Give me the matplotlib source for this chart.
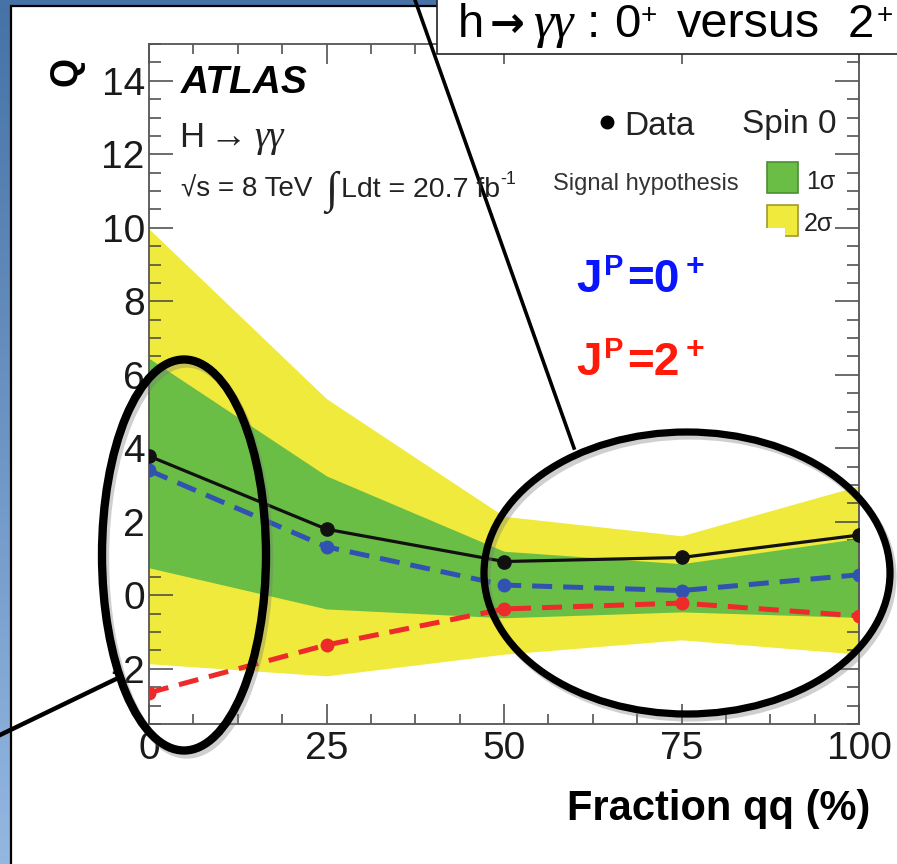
import numpy as np
import matplotlib
matplotlib.use("Agg")
import matplotlib.pyplot as plt
from matplotlib.patches import Ellipse, Rectangle
from matplotlib.lines import Line2D
from matplotlib.colors import LinearSegmentedColormap
from matplotlib.ticker import MultipleLocator

plt.rcParams['font.family'] = ['Liberation Sans', 'DejaVu Sans']
plt.rcParams['axes.unicode_minus'] = False

# ---- data: separation variable Q vs. fraction of qq-initiated production ----
qq_fraction = [0, 25, 50, 75, 100]
q_data = [3.79, 1.80, 0.92, 1.03, 1.64]
q_spin0 = [3.40, 1.32, 0.28, 0.13, 0.56]
q_spin2 = [-2.65, -1.35, -0.37, -0.21, -0.56]
band1_lo = [0.75, -0.37, -0.61, -0.45, -0.60]
band1_hi = [6.45, 3.25, 1.20, 0.86, 1.55]
band2_lo = [-1.86, -2.19, -1.60, -1.21, -1.60]
band2_hi = [9.97, 5.35, 2.15, 1.62, 2.98]
x_ticks = [0, 25, 50, 75, 100]
y_ticks = [-2, 0, 2, 4, 6, 8, 10, 12, 14]

W, H = 897, 864
fig = plt.figure(figsize=(W / 100, H / 100), dpi=100)

# ---- slide background: blue gradient with white panel ----
bg = fig.add_axes([0, 0, 1, 1], zorder=0)
bg.set_xlim(0, W)
bg.set_ylim(H, 0)
bg.axis('off')
cmap = LinearSegmentedColormap.from_list('slide', ['#4672a6', '#93b7e1'])
grad = np.linspace(0, 1, 256).reshape(-1, 1)
bg.imshow(grad, cmap=cmap, aspect='auto', extent=[0, W, H, 0], zorder=0)
bg.add_patch(Rectangle((11, 6), W + 20, H + 20, facecolor='white',
                       edgecolor='black', linewidth=1.6, zorder=1))

# ---- main plot ----
ax = fig.add_axes([149 / W, 1 - 724 / H, 710 / W, 680 / H], zorder=1)
ax.fill_between(qq_fraction, band2_lo, band2_hi, color='#efea3b', linewidth=0, zorder=1)
ax.fill_between(qq_fraction, band1_lo, band1_hi, color='#6abe45', linewidth=0, zorder=2)
ax.plot(qq_fraction, q_spin0, color='#3252b2', linewidth=3.6, dashes=(4, 2.2),
        marker='o', markersize=9, zorder=3)
ax.plot(qq_fraction, q_spin2, color='#ee2a2a', linewidth=3.6, dashes=(4, 2.2),
        marker='o', markersize=9, zorder=4)
ax.plot(qq_fraction, q_data, color='#111111', linewidth=2.3,
        marker='o', markersize=9.5, zorder=5)

ax.set_xlim(0, 100)
ax.set_ylim(-3.5, 15)
ax.set_xticks(x_ticks)
ax.set_xticklabels([str(v) for v in x_ticks])
ax.set_yticks(y_ticks)
ax.set_yticklabels([str(v) for v in y_ticks])
ax.xaxis.set_minor_locator(MultipleLocator(6.25))
ax.yaxis.set_minor_locator(MultipleLocator(0.5))
ax.tick_params(axis='both', which='both', direction='in', top=True, right=True,
               color='#444444', width=1.1, labelsize=28, labelcolor='#1a1a1a')
ax.tick_params(axis='y', which='major', length=17.5, pad=3)
ax.tick_params(axis='y', which='minor', length=8.5)
ax.tick_params(axis='x', which='major', length=14.5, pad=5)
ax.tick_params(axis='x', which='minor', length=7)
for sp in ax.spines.values():
    sp.set_color('#555555')
    sp.set_linewidth(1.3)

# ---- overlay in pixel coordinates ----
ov = fig.add_axes([0, 0, 1, 1], zorder=2)
ov.set_xlim(0, W)
ov.set_ylim(H, 0)
ov.axis('off')


def txt(x, y, s, size, **kw):
    kw.setdefault('va', 'baseline')
    kw.setdefault('ha', 'left')
    return ov.text(x, y, s, fontsize=size, **kw)


# axis titles
txt(67, 71, 'Q', 27, fontweight='bold', rotation=90, ha='center', va='center')
txt(870, 820, 'Fraction qq (%)', 30, fontweight='bold', ha='right')

# experiment labels
txt(181, 93, 'ATLAS', 28, fontweight='bold', fontstyle='italic')
txt(179, 147, 'H', 25, color='#222222')
txt(209, 147, '→', 27, color='#222222')
txt(254, 147, 'γγ', 27, color='#222222', family='Liberation Serif', fontstyle='italic')
txt(181, 197, '√s = 8 TeV', 20, color='#222222')
txt(325, 202, '∫', 32, color='#222222', family='Liberation Serif')
txt(341, 197, 'Ldt = 20.7 fb', 20.5, color='#222222')
txt(500, 184, '-1', 13, color='#222222')

# legend
ov.add_line(Line2D([607], [122], marker='o', markersize=9, color='black'))
txt(624, 135, 'Data', 24, color='#222222')
txt(742, 133, 'Spin 0', 24, color='#222222')
txt(553, 190, 'Signal hypothesis', 17, color='#333333')
ov.add_patch(Rectangle((767, 162), 31, 31, facecolor='#6abe45', edgecolor='#4a8f35', lw=1.2))
txt(806, 189, '1σ', 18, color='#222222')
ov.add_patch(Rectangle((767, 205), 31, 31, facecolor='#efea3b', edgecolor='#a09a30', lw=1.2))
ov.add_patch(Rectangle((766, 228), 19, 10, facecolor='white', edgecolor='none'))
txt(804, 231, '2σ', 18, color='#222222')

# spin hypothesis labels
blue = '#0a14ff'
red = '#ff1a0a'
for yb, digit, col in [(292, '=0', blue), (375, '=2', red)]:
    txt(576, yb, 'J', 33, fontweight='bold', color=col)
    txt(604, yb - 17, 'P', 21, fontweight='bold', color=col)
    txt(627, yb, digit, 33, fontweight='bold', color=col)
    txt(686, yb - 17, '+', 23, fontweight='bold', color=col)

# callout ellipses with soft shadow
for (cx, cy, ew, eh, lw) in [(184, 555, 164, 391, 6.0), (687, 573, 406, 282, 5.2)]:
    ov.add_patch(Ellipse((cx + 3, cy + 4), ew, eh, fill=False, edgecolor='#777777',
                         linewidth=lw, alpha=0.35))
    ov.add_patch(Ellipse((cx, cy), ew, eh, fill=False, edgecolor='black', linewidth=lw))

# connector lines
ov.add_line(Line2D([415, 574], [0, 448], color='black', linewidth=2.6))
ov.add_line(Line2D([0, 116], [735, 679], color='black', linewidth=3.2))

# title box
ov.add_patch(Rectangle((437, -10), 480, 64, facecolor='white', edgecolor='#222222', lw=1.2))
txt(458, 37, 'h', 34)
txt(490, 37, '→', 30, fontweight='bold', family='DejaVu Sans')
txt(533, 37, 'γγ', 37, family='Liberation Serif', fontstyle='italic')
txt(587, 37, ':', 34)
txt(614, 37, '0', 34)
txt(641, 23, '+', 20)
txt(677, 37, 'versus', 35)
txt(848, 37, '2', 34)
txt(877, 23, '+', 20)

fig.savefig('out.png', dpi=100)
